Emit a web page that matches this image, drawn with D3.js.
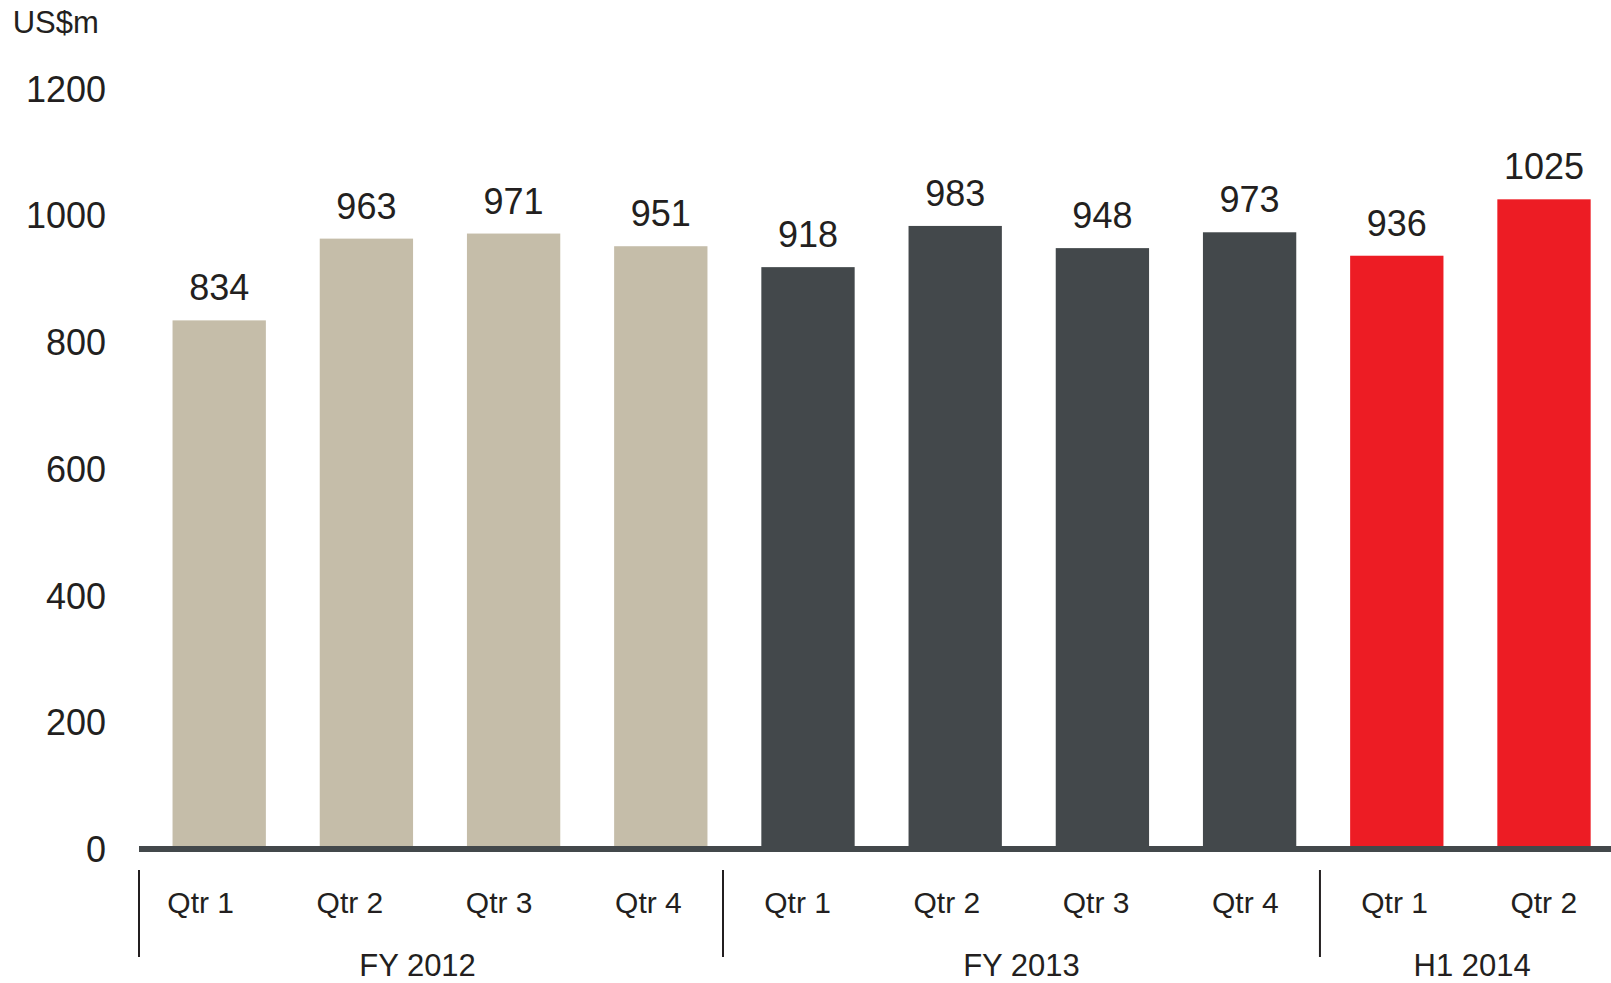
<!DOCTYPE html>
<html>
<head>
<meta charset="utf-8">
<script src="https://cdn.jsdelivr.net/npm/d3@7"></script>
<style>
  html, body { margin: 0; padding: 0; background: #fff; }
  svg { display: block; font-family: "Liberation Sans", Arial, sans-serif; }
</style>
</head>
<body>
<svg id="chart" width="1611" height="983"></svg>
<script>
// chart data
const quarters = ['Qtr 1', 'Qtr 2', 'Qtr 3', 'Qtr 4', 'Qtr 1', 'Qtr 2', 'Qtr 3', 'Qtr 4', 'Qtr 1', 'Qtr 2'];
const periods = ['FY 2012', 'FY 2012', 'FY 2012', 'FY 2012', 'FY 2013', 'FY 2013', 'FY 2013', 'FY 2013', 'H1 2014', 'H1 2014'];
const values = [834, 963, 971, 951, 918, 983, 948, 973, 936, 1025];
const groups = ['FY 2012', 'FY 2013', 'H1 2014'];
const yTicks = [0, 200, 400, 600, 800, 1000, 1200];

const colors = { 'FY 2012': '#c5bda9', 'FY 2013': '#43484b', 'H1 2014': '#ed1c24' };
const textColor = '#231f20';

const svg = d3.select('#chart');
const width = 1611;
const axisLeft = 139;
const baseY = 849;

const idx = values.map((d, i) => i);

const x = d3.scaleBand()
  .domain(idx)
  .range([145.6, 1617.6])
  .paddingInner(0.366)
  .paddingOuter(0.183);

// category labels sit on their own slightly wider grid
const xLab = d3.scalePoint()
  .domain(idx)
  .range([200.7, 1543.8]);

const y = d3.scaleLinear()
  .domain([0, 1200])
  .range([baseY, 88.4]);

// unit label
svg.append('text')
  .attr('x', 12.7)
  .attr('y', 33)
  .attr('font-size', 31)
  .attr('fill', textColor)
  .text('US$m');

// y axis labels (no line, no ticks)
const yAxis = d3.axisLeft(y).tickValues(yTicks).tickFormat(d3.format('d')).tickSize(0).tickPadding(0);
const gy = svg.append('g')
  .attr('transform', 'translate(106,0)')
  .call(yAxis);
gy.select('.domain').remove();
gy.selectAll('text')
  .attr('font-size', 36)
  .attr('font-family', '"Liberation Sans", Arial, sans-serif')
  .attr('fill', textColor)
  .attr('dy', '0.35em');

// bars
svg.selectAll('.bar')
  .data(idx)
  .enter().append('rect')
  .attr('class', 'bar')
  .attr('x', i => x(i))
  .attr('y', i => y(values[i]))
  .attr('width', x.bandwidth())
  .attr('height', i => y(0) - y(values[i]))
  .attr('fill', i => colors[periods[i]]);

// value labels
svg.selectAll('.val')
  .data(idx)
  .enter().append('text')
  .attr('class', 'val')
  .attr('x', i => x(i) + x.bandwidth() / 2)
  .attr('y', i => y(values[i]) - 20)
  .attr('text-anchor', 'middle')
  .attr('font-size', 36)
  .attr('fill', textColor)
  .text(i => values[i]);

// baseline
svg.append('rect')
  .attr('x', axisLeft)
  .attr('y', baseY - 3)
  .attr('width', width - axisLeft)
  .attr('height', 6)
  .attr('fill', '#43484b');

// quarter labels
svg.selectAll('.cat')
  .data(idx)
  .enter().append('text')
  .attr('class', 'cat')
  .attr('x', i => xLab(i))
  .attr('y', 913)
  .attr('text-anchor', 'middle')
  .attr('font-size', 30)
  .attr('fill', textColor)
  .text(i => quarters[i]);

// group separators and labels
groups.forEach((g, gi) => {
  const members = idx.filter(i => periods[i] === g);
  const first = members[0];
  const sepX = first === 0 ? axisLeft : (xLab(first - 1) + xLab(first)) / 2;
  svg.append('line')
    .attr('x1', sepX).attr('x2', sepX)
    .attr('y1', 870).attr('y2', 957)
    .attr('stroke', textColor)
    .attr('stroke-width', 2);
  svg.append('text')
    .attr('x', d3.mean(members, i => xLab(i)) + (gi === 0 ? -7 : gi === 2 ? 3 : 0))
    .attr('y', 976)
    .attr('text-anchor', 'middle')
    .attr('font-size', 31)
    .attr('fill', textColor)
    .text(g);
});
</script>
</body>
</html>
